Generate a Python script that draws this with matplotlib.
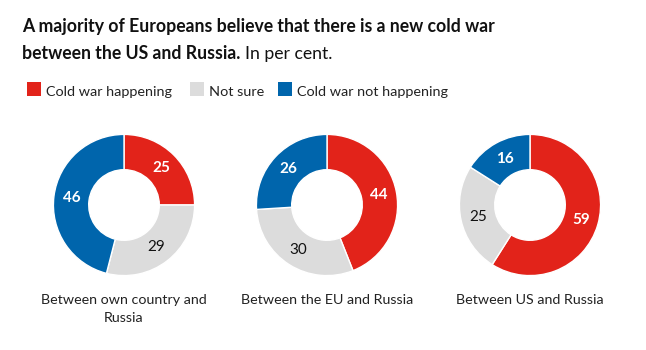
import math
import matplotlib
matplotlib.use("Agg")
import matplotlib.pyplot as plt
from matplotlib.patches import Rectangle

plt.rcParams['font.family'] = ['Lato', 'DejaVu Sans']

categories = ["Cold war happening", "Not sure", "Cold war not happening"]
colors = ["#E2231A", "#DCDCDC", "#0065AC"]
groups = ["Between own country and\nRussia", "Between the EU and Russia", "Between US and Russia"]
happening = [25, 44, 59]
not_sure = [29, 30, 25]
not_happening = [46, 26, 16]

W, H = 646, 350
fig = plt.figure(figsize=(W / 100, H / 100), dpi=100)
fig.patch.set_facecolor("white")

def px(x, y):
    return x / W, 1 - y / H

# Title
fig.text(*px(22, 32), "A majority of Europeans believe that there is a new cold war",
         fontsize=12.7, fontweight="bold", color="#111111", va="baseline")
t2 = fig.text(*px(22, 59), "between the US and Russia.", fontsize=12.7, fontweight="bold",
              color="#111111", va="baseline")
fig.canvas.draw()
bb = t2.get_window_extent()
fig.text((bb.x1 + 5) / W, 1 - 59 / H, "In per cent.", fontsize=12.7, color="#111111",
         va="baseline")

# Legend
legend_x = [27, 190, 278]
for lx, cat, col in zip(legend_x, categories, colors):
    fig.patches.append(Rectangle(px(lx, 96), 14 / W, 14 / H, transform=fig.transFigure,
                                 facecolor=col, edgecolor="none"))
    fig.text(*px(lx + 19, 96), cat, fontsize=10.4, color="#222222", va="baseline")

centers_x = [124, 327, 530]
cy = 205
R = 72
for i, cx in enumerate(centers_x):
    vals = [happening[i], not_sure[i], not_happening[i]]
    l, b = px(cx - R, cy + R)
    ax = fig.add_axes([l, b, 2 * R / W, 2 * R / H])
    wedges, _ = ax.pie(vals, colors=colors, startangle=90, counterclock=False, radius=1,
                       wedgeprops=dict(width=0.5, edgecolor="white", linewidth=1))
    start = 90.0
    for v, col in zip(vals, colors):
        mid = start - v / 100 * 360 / 2
        start -= v / 100 * 360
        r = 0.75
        x = r * math.cos(math.radians(mid))
        y = r * math.sin(math.radians(mid))
        if col == colors[1]:
            ax.text(x, y, str(v), ha="center", va="center", fontsize=11, color="#111111")
        else:
            ax.text(x, y, str(v), ha="center", va="center", fontsize=11, color="white",
                    fontweight="bold")
    ax.set_xlim(-1.02, 1.02)
    ax.set_ylim(-1.02, 1.02)
    ax.axis("off")
    fig.text(*px(cx, 294), groups[i], ha="center", va="top", fontsize=10.3,
             color="#222222", linespacing=1.65)

fig.savefig("out.png", dpi=100, facecolor="white")
